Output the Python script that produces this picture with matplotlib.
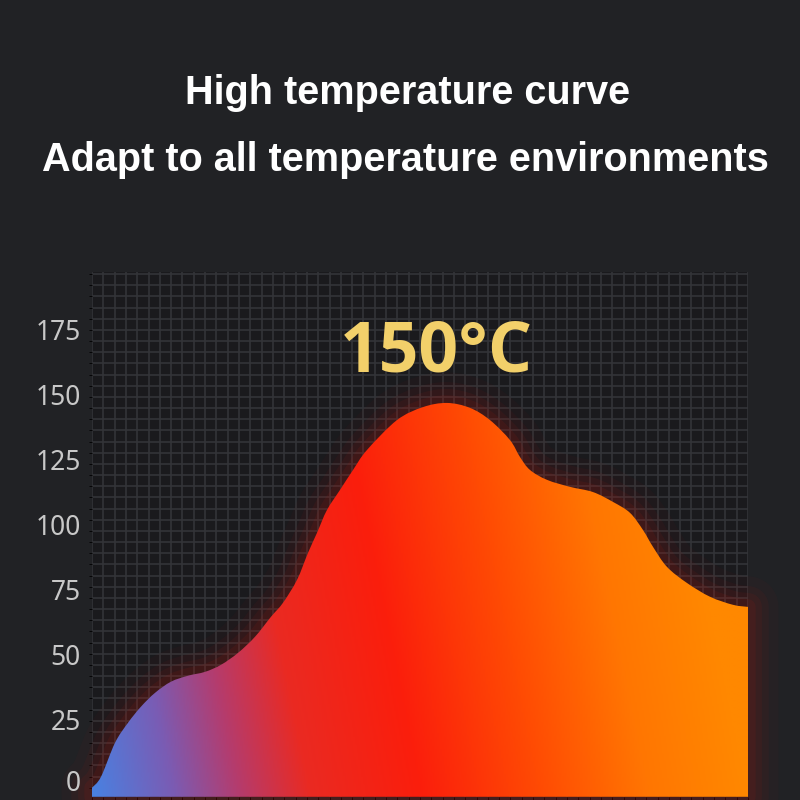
import numpy as np
import matplotlib
matplotlib.use('Agg')
import matplotlib.pyplot as plt
from matplotlib.colors import LinearSegmentedColormap
from matplotlib.patches import PathPatch
from matplotlib.path import Path
from matplotlib.ticker import MultipleLocator
from matplotlib.transforms import ScaledTranslation

# curve (x in % of width, temperature in °C)
x = [0, 1.37, 3.51, 5.49, 7.47, 9.6, 12.04, 14.63, 17.23, 19.66, 22.26, 24.85,
     27.29, 29.12, 31.25, 32.93, 34.3, 35.82, 37.8, 39.79, 41.92, 46.49, 50.46,
     54.12, 57.62, 60.67, 63.72, 65.24, 66.77, 69.36, 72.87, 76.37, 79.42, 82.01,
     83.99, 85.52, 87.65, 90.7, 94.21, 97.71, 100]
temp = [0, 4.2, 17.3, 25.0, 31.2, 36.5, 40.8, 43.1, 44.6, 47.3, 51.9, 58.1,
        65.8, 71.2, 80.0, 90.4, 98.1, 106.9, 114.6, 122.3, 130.0, 141.5, 146.5,
        148.1, 146.2, 141.5, 133.8, 127.3, 122.3, 118.5, 115.8, 113.8, 110.0, 105.8,
        99.2, 92.7, 85.0, 78.8, 73.5, 70.4, 69.6]
yticks = [0, 25, 50, 75, 100, 125, 150, 175]
title1 = 'High temperature curve'
title2 = 'Adapt to all temperature environments'
peak_label = '150°C'

ymin, ymax = -3.5, 198.5


def smooth_path(px, py, close_to=None):
    # catmull-rom through the points, as bezier segments
    p = np.column_stack([px, py])
    pts = np.vstack([p[0], p, p[-1]])
    verts = [tuple(p[0])]
    codes = [Path.MOVETO]
    for i in range(1, len(pts) - 2):
        c1 = pts[i] + (pts[i + 1] - pts[i - 1]) / 6
        c2 = pts[i + 1] - (pts[i + 2] - pts[i]) / 6
        verts += [tuple(c1), tuple(c2), tuple(pts[i + 1])]
        codes += [Path.CURVE4] * 3
    if close_to is not None:
        verts += [(px[-1], close_to), (px[0], close_to), tuple(p[0])]
        codes += [Path.LINETO, Path.LINETO, Path.CLOSEPOLY]
    return Path(verts, codes)


fig = plt.figure(figsize=(8, 8), dpi=100)
fig.patch.set_facecolor('#212225')

ax = fig.add_axes([0.115, 0.004, 0.82, 0.656])
ax.set_facecolor('#1a1a1d')
ax.set_xlim(0, 100)
ax.set_ylim(ymin, ymax)

# fine grid
ax.xaxis.set_minor_locator(MultipleLocator(100 / 58))
ax.yaxis.set_minor_locator(MultipleLocator((ymax - ymin) / 47))
ax.grid(which='minor', color='#333438', linewidth=1.2)
ax.set_axisbelow(True)
ax.set_xticks([])
ax.set_yticks([])
for s in ax.spines.values():
    s.set_visible(False)

# y labels
for v in yticks:
    tr = ax.get_yaxis_transform()
    if v == 0:
        tr = tr + ScaledTranslation(0, 4 / 100, fig.dpi_scale_trans)
    ax.text(-0.017, v, str(v), transform=tr, ha='right', va='center',
            fontsize=19, color='#c8c8c8', family=['Noto Sans', 'DejaVu Sans'])

# red glow around the area
edge = smooth_path(x, temp, close_to=ymin)
for lw, a in [(44, 0.03), (30, 0.05), (20, 0.07), (11, 0.09)]:
    ax.add_patch(PathPatch(edge, facecolor='none', edgecolor='#c8180e',
                           linewidth=lw, alpha=a, joinstyle='round',
                           clip_on=False, zorder=2))

# gradient fill clipped to the curve
cmap = LinearSegmentedColormap.from_list('heat', [
    (0.0, '#4a80e0'), (0.12, '#7a5cb4'), (0.22, '#b43c6e'), (0.33, '#ea2a22'),
    (0.5, '#fb1e0c'), (0.68, '#ff4a04'), (0.85, '#ff7602'), (1.0, '#ff8800')])
gx, gy = np.meshgrid(np.linspace(0, 100, 400), np.linspace(ymin, ymax, 300))
s = np.clip(gx / 100 + 0.12 * gy / 150, 0, 1)
img = ax.imshow(cmap(s), extent=[0, 100, ymin, ymax], origin='lower',
                aspect='auto', zorder=3, interpolation='bilinear')
clip = PathPatch(edge, facecolor='none', edgecolor='none')
ax.add_patch(clip)
img.set_clip_path(clip)

ax.text(52.5, 167, peak_label, color='#f2d06a', fontsize=50, fontweight='bold',
        family=['Open Sans', 'DejaVu Sans'], ha='center', va='center', zorder=4)

fig.text(0.509, 0.884, title1, color='white', fontsize=28.5, fontweight='bold',
         family=['Liberation Sans', 'DejaVu Sans'], ha='center', va='center')
fig.text(0.507, 0.800, title2, color='white', fontsize=28.5, fontweight='bold',
         family=['Liberation Sans', 'DejaVu Sans'], ha='center', va='center')

fig.savefig('out.png', dpi=100, facecolor=fig.get_facecolor())
